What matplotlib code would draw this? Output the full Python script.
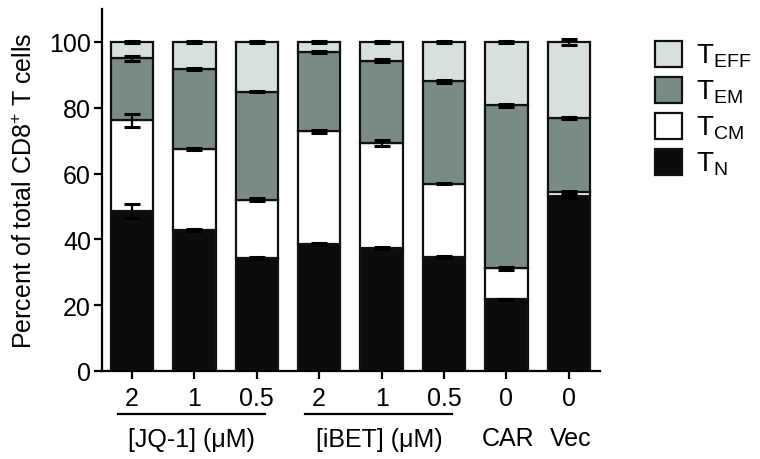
import matplotlib
matplotlib.use('Agg')
import matplotlib.pyplot as plt
from matplotlib.patches import Rectangle
import numpy as np

plt.rcParams['font.family'] = ['Liberation Sans', 'DejaVu Sans']
plt.rcParams['mathtext.fontset'] = 'custom'
plt.rcParams['mathtext.rm'] = 'Liberation Sans'
plt.rcParams['mathtext.default'] = 'regular'

# --- data (percent of total CD8+ T cells) ---
tick_labels = ['2', '1', '0.5', '2', '1', '0.5', '0', '0']
t_n = [48.6, 42.8, 34.2, 38.5, 37.5, 34.6, 21.8, 53.1]
t_cm = [27.6, 24.8, 17.9, 34.3, 31.8, 22.3, 9.4, 1.3]
t_em = [18.8, 24.2, 32.8, 24.1, 25.0, 31.1, 49.5, 22.5]
t_eff = [5.0, 8.2, 15.1, 3.1, 5.7, 12.0, 19.3, 23.1]
# SEM at the top of each segment
err_n = [2.0, 0.2, 0.3, 0.3, 0.3, 0.3, 0.2, 0.5]
err_cm = [2.0, 0.3, 0.5, 0.4, 1.0, 0.2, 0.4, 0.3]
err_em = [0.7, 0.4, 0.2, 0.4, 0.4, 0.4, 0.4, 0.2]
err_eff = [0.3, 0.2, 0.2, 0.2, 0.2, 0.3, 0.2, 1.0]

groups = ['[JQ-1] (\u03bcM)', '[iBET] (\u03bcM)']
group_start = [0, 3]
single_labels = ['CAR', 'Vec']
single_pos = [6, 7]

C_EFF = '#d8e0de'
C_EM = '#7a8a87'
C_CM = '#ffffff'
C_N = '#0b0d0c'
EDGE = '#111111'

W, H = 760, 460
fig = plt.figure(figsize=(W / 100, H / 100), dpi=100)
ax = fig.add_axes([102 / W, 1 - 372 / H, 498 / W, 362 / H])

x = np.arange(len(tick_labels))
layers = [(t_n, err_n, C_N, 'T$_{N}$'),
          (t_cm, err_cm, C_CM, 'T$_{CM}$'),
          (t_em, err_em, C_EM, 'T$_{EM}$'),
          (t_eff, err_eff, C_EFF, 'T$_{EFF}$')]

bottom = np.zeros(len(x))
for vals, errs, col, lab in layers:
    vals = np.array(vals)
    ax.bar(x, vals, 0.68, bottom=bottom, color=col, edgecolor=EDGE,
           linewidth=1.6, zorder=2)
    top = bottom + vals
    ax.errorbar(x, top, yerr=errs, fmt='none', ecolor='#000000',
                elinewidth=1.6, capsize=6, capthick=2.2, zorder=3)
    bottom = top

ax.set_xlim(-0.48, 7.5)
ax.set_ylim(0, 110)
ax.set_yticks([0, 20, 40, 60, 80, 100])
ax.set_xticks(x)
ax.set_xticklabels(tick_labels)
for s in ['top', 'right']:
    ax.spines[s].set_visible(False)
for s in ['left', 'bottom']:
    ax.spines[s].set_linewidth(1.6)
ax.tick_params(axis='y', length=6, width=1.6, labelsize=18, pad=2)
ax.tick_params(axis='x', length=5.5, width=1.6, labelsize=18, pad=5)
ax.set_ylabel('Percent of total CD8$^{+}$ T cells', fontsize=18)
ax.yaxis.set_label_coords(-0.13, 0.5)

# group annotations below the axis
tr = ax.get_xaxis_transform()
for g, s in zip(groups, group_start):
    ax.plot([s - 0.22, s + 2.13], [-0.119, -0.119], color='black', lw=1.6,
            transform=tr, clip_on=False)
    ax.text(s + 0.96, -0.207, g, transform=tr, ha='center', va='baseline',
            fontsize=18)
for lab, p in zip(single_labels, single_pos):
    ax.text(p + 0.03, -0.205, lab, transform=tr, ha='center', va='baseline',
            fontsize=18)

# legend drawn by hand (top to bottom)
box_top = [42, 78, 114, 150]
for (vals, errs, col, lab), yt in zip(layers[::-1], box_top):
    fig.patches.append(Rectangle((655 / W, 1 - (yt + 25.5) / H), 27 / W, 25.5 / H,
                                 transform=fig.transFigure, facecolor=col,
                                 edgecolor=EDGE, linewidth=1.6))
    fig.text(696 / W, 1 - (yt + 22) / H, lab, fontsize=20, ha='left',
             va='baseline')

fig.savefig('out.png', dpi=100)
